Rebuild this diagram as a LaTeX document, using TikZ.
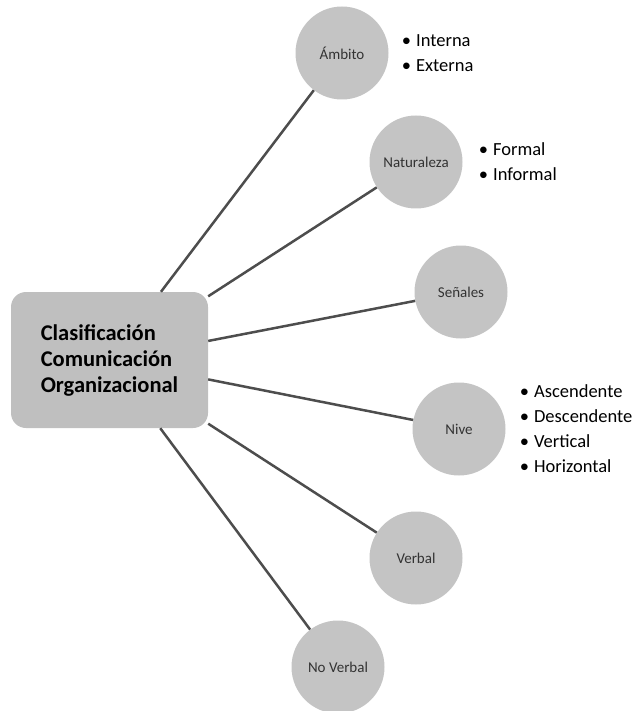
\documentclass[tikz,border=0pt]{standalone}
\usepackage{fontspec}
\setmainfont{Carlito}
\usetikzlibrary{positioning}
\definecolor{boxgray}{HTML}{BFBFBF}
\definecolor{circgray}{HTML}{C4C4C4}
\definecolor{linegray}{HTML}{4D4D4D}
\tikzset{main/.style={rectangle,rounded corners=15pt,fill=boxgray,minimum width=197pt,minimum height=136pt,align=left,font=\fontsize{22.5}{26}\selectfont\bfseries}}
\tikzset{bubble/.style={circle,fill=circgray,minimum size=93pt,inner sep=0pt,font=\fontsize{15}{17}\selectfont,text=black!80}}
\tikzset{items/.style={align=left,inner sep=0pt,font=\fontsize{18.5}{25}\selectfont}}
\tikzset{link/.style={line width=2.5pt,draw=linegray}}
\newcommand{\itm}{\textbullet\hspace{5pt}}

\begin{document}
\begin{tikzpicture}[x=1pt,y=-1pt]
  \useasboundingbox (0,0) rectangle (636,711);
  \node[main] (clas) at (109.5,360) {Clasificación\\Comunicación\\Organizacional};
  \node[bubble] (amb) at (342,53) {Ámbito};
  \node[bubble] (nat) at (416,162) {Naturaleza};
  \node[bubble] (sen) at (461,292) {Señales};
  \node[bubble] (niv) at (459,429) {Nive};
  \node[bubble] (ver) at (416,558) {Verbal};
  \node[bubble] (nov) at (338,667) {No Verbal};
  \node[items,right=13pt of amb] (ambl) {\itm Interna\\\itm Externa};
  \node[items,right=16pt of nat] (natl) {\itm Formal\\\itm Informal};
  \node[items,right=14pt of niv] (nivl) {\itm Ascendente\\\itm Descendente\\\itm Vertical\\\itm Horizontal};
  \foreach \n in {amb,nat,sen,niv,ver,nov}
    \draw[link] (clas) -- (\n);
\end{tikzpicture}
\end{document}
